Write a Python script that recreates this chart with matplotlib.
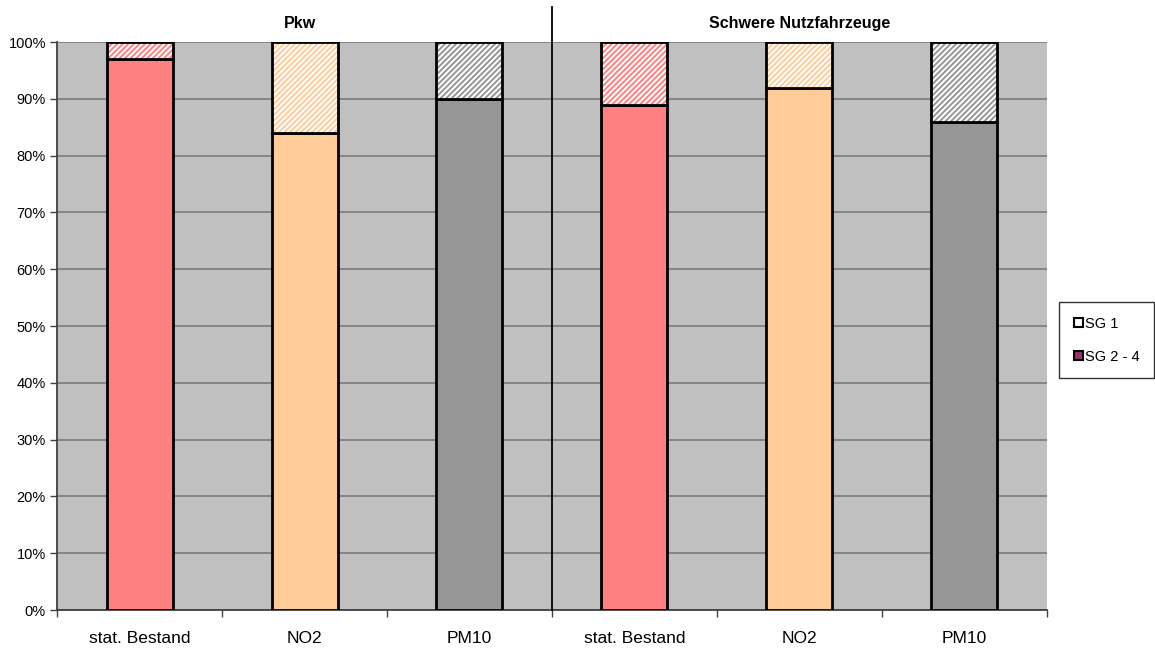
import matplotlib.pyplot as plt
from matplotlib.patches import Patch

# Data: share of vehicles in SG 2-4 (bottom) and SG 1 (top), in percent
categories = ['stat. Bestand', 'NO2', 'PM10', 'stat. Bestand', 'NO2', 'PM10']
sg24 = [97, 84, 90, 89, 92, 86]
sg1 = [3, 16, 10, 11, 8, 14]
group_titles = ['Pkw', 'Schwere Nutzfahrzeuge']

colors = ['#FF8080', '#FFCC99', '#969696', '#FF8080', '#FFCC99', '#969696']

plt.rcParams['font.family'] = ['Liberation Sans', 'DejaVu Sans']
plt.rcParams['hatch.linewidth'] = 1.4

fig = plt.figure(figsize=(11.55, 6.48), dpi=100)
ax = fig.add_axes([0.0494, 0.0586, 0.857, 0.8764])
ax.set_facecolor('#C0C0C0')

x = list(range(len(categories)))
w = 0.4

# lower (solid) part
ax.bar(x, sg24, width=w, color=colors, edgecolor='black', linewidth=2, zorder=3)
# upper hatched part: white fill, coloured stripes
for xi, b, h, c in zip(x, sg24, sg1, colors):
    ax.bar(xi, h, bottom=b, width=w, color='white', edgecolor=c,
           hatch='//////', linewidth=0, zorder=3)
    ax.bar(xi, h, bottom=b, width=w, fill=False, edgecolor='black',
           linewidth=2, zorder=4)

ax.set_xlim(-0.5, 5.5)
ax.set_ylim(0, 100)
ax.set_yticks(range(0, 101, 10))
ax.set_yticklabels([f'{v}%' for v in range(0, 101, 10)], fontsize=10.5)
ax.yaxis.grid(True, color='#808080', linewidth=1.3, zorder=0)
ax.set_axisbelow(True)

ax.set_xticks(x)
ax.set_xticklabels(categories, fontsize=12.5)
ax.tick_params(axis='x', length=0, pad=15)
ax.set_xticks([i + 0.5 for i in range(-1, 6)], minor=True)
ax.tick_params(axis='x', which='minor', length=5, color='#404040', width=1)
ax.tick_params(axis='y', length=5, color='#404040', width=1, pad=3)

for s in ['top', 'right']:
    ax.spines[s].set_visible(False)
for s in ['left', 'bottom']:
    ax.spines[s].set_color('#404040')
    ax.spines[s].set_linewidth(1.3)

# divider between the two vehicle groups
ax.plot([2.5, 2.5], [0, 1.062], color='black', linewidth=1.3,
        transform=ax.get_xaxis_transform(), clip_on=False, zorder=5)

ax.text(0.97, 1.032, group_titles[0], transform=ax.get_xaxis_transform(),
        ha='center', va='center', fontsize=11.5, fontweight='bold')
ax.text(4, 1.032, group_titles[1], transform=ax.get_xaxis_transform(),
        ha='center', va='center', fontsize=11.5, fontweight='bold')

handles = [Patch(facecolor='white', edgecolor='black', linewidth=1.5),
           Patch(facecolor='#993366', edgecolor='black', linewidth=1.5)]
leg = fig.legend(handles, ['SG 1', 'SG 2 - 4'], loc='center left',
                 bbox_to_anchor=(0.9105, 0.475), fontsize=10.5, frameon=True,
                 fancybox=False, handlelength=0.65, handleheight=0.65,
                 handletextpad=0.15, labelspacing=1.3, borderpad=1.0)
leg.get_frame().set_edgecolor('black')
leg.get_frame().set_linewidth(1)

fig.savefig('out.png', dpi=100)
